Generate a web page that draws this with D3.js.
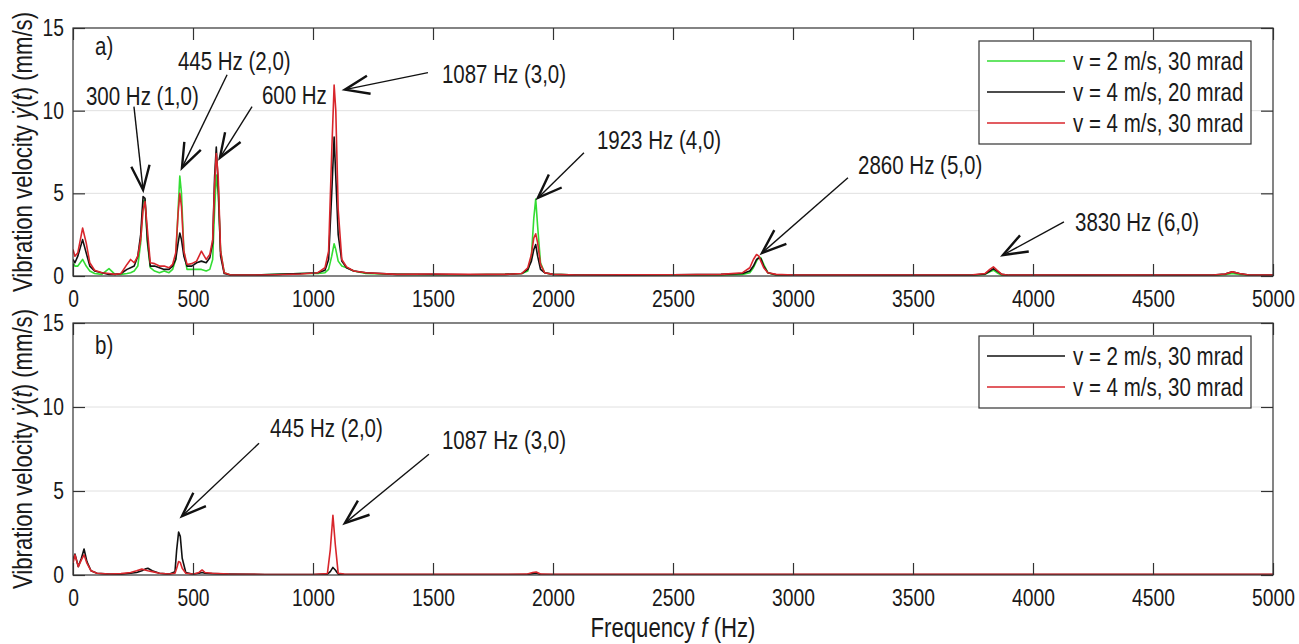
<!DOCTYPE html>
<html><head><meta charset="utf-8">
<script src="https://cdn.jsdelivr.net/npm/d3@7/dist/d3.min.js"></script>
<style>html,body{margin:0;padding:0;background:#fff;} svg{display:block;}</style>
</head><body>
<svg id="chart" width="1299" height="644"></svg>
<script>
// ---------------- DATA ----------------
const xTicks = [0,500,1000,1500,2000,2500,3000,3500,4000,4500,5000];
const yTicks = [0,5,10,15];

// panel a) frequency grid (Hz) and amplitudes (mm/s)
const freqA = [0,8,20,40,55,70,90,120,150,175,200,225,240,255,270,282,292,300,310,322,340,360,380,400,415,428,438,445,452,462,475,495,515,535,555,570,582,590,597,605,615,630,660,750,850,950,1020,1050,1065,1078,1088,1095,1105,1120,1140,1170,1220,1350,1500,1650,1800,1870,1895,1910,1920,1928,1936,1948,1965,2000,2100,2300,2500,2700,2790,2820,2835,2848,2858,2866,2878,2895,2930,3000,3200,3400,3600,3750,3800,3820,3835,3850,3870,3900,4000,4200,4400,4600,4750,4800,4830,4860,4900,5000];
const greenA = [0.8,0.6,0.6,1.0,0.6,0.3,0.15,0.1,0.45,0.1,0.1,0.15,0.2,0.3,0.6,2.0,4.5,4.6,2.0,0.5,0.3,0.2,0.3,0.2,0.4,1.0,4.0,6.05,5.0,1.5,0.4,0.4,0.4,0.4,0.3,0.4,1.0,4.0,6.1,5.0,1.5,0.2,0.05,0.05,0.1,0.15,0.15,0.2,0.4,1.2,1.95,1.6,0.9,0.6,0.5,0.3,0.15,0.1,0.08,0.08,0.1,0.15,0.3,1.2,3.5,4.65,3.0,0.8,0.2,0.1,0.05,0.05,0.05,0.05,0.1,0.2,0.5,0.9,1.15,1.1,0.7,0.2,0.05,0.03,0.03,0.03,0.03,0.05,0.1,0.25,0.35,0.2,0.05,0.03,0.03,0.03,0.03,0.03,0.04,0.08,0.15,0.1,0.04,0.03];
const blackA = [1.0,0.8,1.2,2.2,1.4,0.6,0.3,0.2,0.1,0.1,0.15,0.4,0.5,0.6,1.2,2.5,4.8,4.7,2.2,0.6,0.6,0.5,0.4,0.4,0.6,1.0,2.0,2.6,2.2,1.2,0.6,0.6,0.8,0.9,0.8,1.1,2.0,6.0,7.8,5.5,1.2,0.15,0.05,0.05,0.1,0.15,0.2,0.35,1.0,5.0,8.4,6.0,2.5,0.9,0.5,0.3,0.2,0.1,0.1,0.08,0.1,0.15,0.4,0.9,1.6,1.9,1.2,0.4,0.2,0.1,0.05,0.05,0.08,0.1,0.15,0.3,0.6,1.0,1.1,1.05,0.6,0.2,0.08,0.05,0.05,0.05,0.05,0.06,0.12,0.3,0.45,0.3,0.1,0.05,0.05,0.05,0.05,0.05,0.06,0.12,0.25,0.15,0.06,0.05];
const redA = [1.6,1.2,1.4,2.9,2.0,0.8,0.35,0.2,0.15,0.1,0.15,0.7,1.0,0.8,1.2,2.2,4.0,4.5,2.8,0.8,0.75,0.6,0.6,0.5,0.7,1.4,3.8,5.0,4.2,1.5,0.7,0.75,0.9,1.5,1.0,1.3,2.2,5.5,7.4,6.0,1.5,0.2,0.05,0.05,0.08,0.12,0.2,0.5,1.5,7.5,11.55,10.0,4.0,1.0,0.55,0.3,0.2,0.1,0.12,0.1,0.1,0.15,0.5,1.3,2.3,2.55,2.0,0.7,0.2,0.1,0.05,0.08,0.08,0.1,0.2,0.5,1.0,1.3,1.2,0.9,0.5,0.2,0.1,0.05,0.05,0.06,0.06,0.08,0.15,0.4,0.55,0.35,0.1,0.05,0.05,0.06,0.05,0.06,0.06,0.12,0.25,0.15,0.06,0.05];

// panel b)
const freqB = [0,8,22,35,46,58,75,100,150,200,240,265,287,300,312,330,360,400,425,432,440,447,455,470,500,525,538,550,580,650,800,1000,1060,1072,1083,1093,1105,1130,1200,1400,1600,1800,1890,1915,1930,1950,2000,2300,2600,2900,3200,3500,3800,4100,4400,4700,5000];
const blackB = [0.9,1.25,0.5,1.0,1.55,0.8,0.25,0.1,0.05,0.05,0.1,0.15,0.25,0.35,0.4,0.25,0.1,0.05,0.2,1.5,2.55,2.3,1.0,0.15,0.05,0.1,0.15,0.1,0.08,0.05,0.03,0.03,0.05,0.2,0.45,0.3,0.05,0.03,0.03,0.03,0.03,0.03,0.03,0.08,0.1,0.03,0.03,0.03,0.03,0.03,0.03,0.03,0.03,0.03,0.03,0.03,0.03];
const redB = [0.7,1.2,0.5,0.9,1.2,0.7,0.25,0.1,0.05,0.08,0.15,0.25,0.35,0.3,0.25,0.2,0.1,0.05,0.1,0.4,0.8,0.75,0.4,0.1,0.05,0.15,0.3,0.15,0.1,0.05,0.03,0.03,0.08,1.5,3.55,1.8,0.1,0.05,0.04,0.04,0.04,0.04,0.05,0.15,0.18,0.05,0.04,0.04,0.04,0.04,0.04,0.04,0.04,0.04,0.04,0.04,0.04];

const legendA = ["v = 2 m/s, 30 mrad","v = 4 m/s, 20 mrad","v = 4 m/s, 30 mrad"];
const legendB = ["v = 2 m/s, 30 mrad","v = 4 m/s, 30 mrad"];

// annotations: label, text left freq / centre value, arrow start, arrow tip (data units)
const annotA = [
  {label:"300 Hz (1,0)",  tf:54,   tv:10.9,  sf:254,  sv:10.24, ef:292,  ev:5.21},
  {label:"445 Hz (2,0)",  tf:437,  tv:12.96, sf:642,  sv:12.17, ef:454,  ev:6.54},
  {label:"600 Hz",        tf:787,  tv:10.96, sf:746,  sv:10.24, ef:612,  ev:7.15},
  {label:"1087 Hz (3,0)", tf:1537, tv:12.23, sf:1479, sv:12.3,  ef:1133, ev:11.27},
  {label:"1923 Hz (4,0)", tf:2183, tv:8.24,  sf:2129, sv:7.45,  ef:1937, ev:4.72},
  {label:"2860 Hz (5,0)", tf:3271, tv:6.72,  sf:3229, sv:5.94,  ef:2871, ev:1.39},
  {label:"3830 Hz (6,0)", tf:4175, tv:3.27,  sf:4129, sv:3.27,  ef:3875, ev:1.27}
];
const annotB = [
  {label:"445 Hz (2,0)",  tf:821,  tv:8.73, sf:775,  sv:7.84, ef:454,  ev:3.5},
  {label:"1087 Hz (3,0)", tf:1537, tv:8.02, sf:1483, sv:7.19, ef:1133, ev:3.09}
];

// ---------------- STYLE ----------------
const GREEN = "#33dd33", BLACK = "#111111", RED = "#d8262c";
const FONT = "'Liberation Sans', Arial, sans-serif";
const K = 0.82; // horizontal condensation (Arial Narrow look)

const svg = d3.select("#chart");
const X0 = 73, X1 = 1273;

function addText(parent, parts, x, y, size, anchor, dy) {
  const t = parent.append("text")
    .attr("x", x).attr("y", y)
    .attr("font-family", FONT).attr("font-size", size)
    .attr("fill", "#1a1a1a").attr("text-anchor", "start");
  if (dy) t.attr("dy", dy);
  parts.forEach(p => {
    const s = t.append("tspan").text(p[0]);
    if (p[1]) s.attr("font-style", "italic");
  });
  const L = t.node().getComputedTextLength();
  const nL = L * K;
  t.attr("textLength", nL).attr("lengthAdjust", "spacingAndGlyphs");
  let nx = x;
  if (anchor === "middle") nx = x - nL / 2;
  else if (anchor === "end") nx = x - nL;
  t.attr("x", nx);
  return t;
}

function condenseAxisLabels(g, anchor) {
  g.selectAll(".tick text").each(function() {
    const t = d3.select(this);
    t.attr("font-family", FONT);
    const L = this.getComputedTextLength();
    const nL = L * K;
    const x0 = +(t.attr("x") || 0);
    t.attr("text-anchor", "start").attr("textLength", nL).attr("lengthAdjust", "spacingAndGlyphs");
    if (anchor === "middle") t.attr("x", x0 - nL / 2);
    else if (anchor === "end") t.attr("x", x0 - nL);
  });
}

function drawPanel(cfg) {
  const x = d3.scaleLinear().domain([0, 5000]).range([X0, X1]);
  const y = d3.scaleLinear().domain([0, 15]).range([cfg.bottom, cfg.top]);
  const g = svg.append("g");
  const clipId = "clip" + cfg.id;
  svg.append("clipPath").attr("id", clipId).append("rect")
    .attr("x", X0).attr("y", cfg.top).attr("width", X1 - X0).attr("height", cfg.bottom - cfg.top);

  // grid
  g.append("g").selectAll("line").data(yTicks.filter(v => v > 0 && v < 15)).join("line")
    .attr("x1", X0).attr("x2", X1).attr("y1", d => y(d)).attr("y2", d => y(d))
    .attr("stroke", "#e0e0e0").attr("stroke-width", 1);

  // series
  const line = d3.line().x(d => x(d[0])).y(d => y(d[1]));
  const lg = g.append("g").attr("clip-path", `url(#${clipId})`);
  cfg.series.forEach(s => {
    lg.append("path").datum(cfg.freq.map((f, i) => [f, s.values[i]]))
      .attr("d", line).attr("fill", "none").attr("stroke", s.color)
      .attr("stroke-width", 1.6).attr("stroke-linejoin", "round");
  });

  // axes (inward ticks, MATLAB box)
  const ax = g.append("g").attr("transform", `translate(0,${cfg.bottom})`)
    .call(d3.axisBottom(x).tickValues(xTicks).tickSizeInner(-12).tickSizeOuter(0).tickPadding(14).tickFormat(d3.format("d")));
  const axT = g.append("g").attr("transform", `translate(0,${cfg.top})`)
    .call(d3.axisTop(x).tickValues(xTicks).tickSizeInner(-12).tickSizeOuter(0).tickFormat(""));
  const ay = g.append("g").attr("transform", `translate(${X0},0)`)
    .call(d3.axisLeft(y).tickValues(yTicks).tickSizeInner(-12).tickSizeOuter(0).tickPadding(9).tickFormat(d3.format("d")));
  const ayR = g.append("g").attr("transform", `translate(${X1},0)`)
    .call(d3.axisRight(y).tickValues(yTicks).tickSizeInner(-12).tickSizeOuter(0).tickFormat(""));
  [ax, axT, ay, ayR].forEach(a => {
    a.select(".domain").remove();
    a.selectAll(".tick line").attr("stroke", "#333").attr("stroke-width", 1.2);
    a.selectAll(".tick text").attr("font-size", 23.5).attr("fill", "#1a1a1a");
  });
  condenseAxisLabels(ax, "middle");
  condenseAxisLabels(ay, "end");

  g.append("rect").attr("x", X0).attr("y", cfg.top).attr("width", X1 - X0).attr("height", cfg.bottom - cfg.top)
    .attr("fill", "none").attr("stroke", "#333").attr("stroke-width", 1.2);

  // y axis title
  const yt = g.append("g").attr("transform", `translate(32,${(cfg.top + cfg.bottom) / 2}) rotate(-90)`);
  addText(yt, [["Vibration velocity "], ["\u1E8F", true], ["("], ["t", true], [") (mm/s)"]], 0, 0, 27, "middle");

  // panel letter
  addText(g, [[cfg.letter]], x(92), y(cfg.letterV), 25, "start", "0.35em");

  // annotations
  cfg.annot.forEach(a => {
    addText(g, [[a.label]], x(a.tf), y(a.tv), 25, "start", "0.35em");
    const sx = x(a.sf), sy = y(a.sv), ex = x(a.ef), ey = y(a.ev);
    g.append("line").attr("x1", sx).attr("y1", sy).attr("x2", ex).attr("y2", ey)
      .attr("stroke", "#111").attr("stroke-width", 1.4);
    const ang = Math.atan2(sy - ey, sx - ex), L = 26, hw = 0.36;
    const w1 = [ex + L * Math.cos(ang + hw), ey + L * Math.sin(ang + hw)];
    const w2 = [ex + L * Math.cos(ang - hw), ey + L * Math.sin(ang - hw)];
    g.append("path").attr("d", `M${w1[0]},${w1[1]}L${ex},${ey}L${w2[0]},${w2[1]}`)
      .attr("fill", "none").attr("stroke", "#111").attr("stroke-width", 2.4).attr("stroke-linejoin", "miter");
  });

  // legend
  const lx = 979, ly = cfg.top + 13, rowH = 31;
  const n = cfg.legend.length;
  g.append("rect").attr("x", lx).attr("y", ly).attr("width", 272).attr("height", n * rowH + 10)
    .attr("fill", "#fff").attr("stroke", "#333").attr("stroke-width", 1.2);
  cfg.legend.forEach((txt, i) => {
    const cy = ly + 20 + i * rowH;
    g.append("line").attr("x1", lx + 8).attr("x2", lx + 86).attr("y1", cy).attr("y2", cy)
      .attr("stroke", cfg.legendColors[i]).attr("stroke-width", 1.5);
    addText(g, [[txt]], lx + 94, cy, 25, "start", "0.35em");
  });
}

drawPanel({
  id: "A", top: 28, bottom: 276, letter: "a)", letterV: 13.87,
  freq: freqA,
  series: [{values: greenA, color: GREEN}, {values: blackA, color: BLACK}, {values: redA, color: RED}],
  annot: annotA, legend: legendA, legendColors: [GREEN, BLACK, RED]
});
drawPanel({
  id: "B", top: 323, bottom: 575, letter: "b)", letterV: 13.66,
  freq: freqB,
  series: [{values: blackB, color: BLACK}, {values: redB, color: RED}],
  annot: annotB, legend: legendB, legendColors: [BLACK, RED]
});

// x axis title
addText(svg, [["Frequency "], ["f", true], [" (Hz)"]], 673, 637, 27, "middle");
</script>
</body></html>
